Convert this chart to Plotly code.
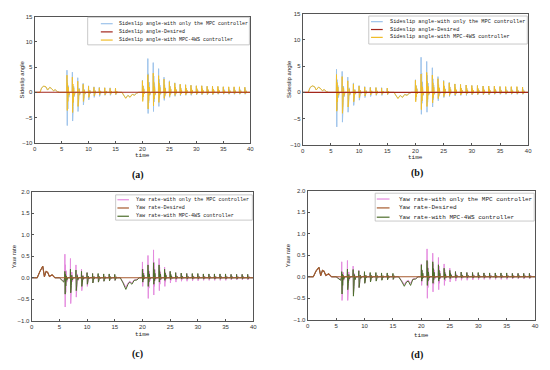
import plotly.graph_objects as go

# ---------------- data ----------------
t_events1 = [6.0, 7.0, 8.0, 9.0, 10.0, 11.0, 12.0, 13.0, 14.0, 15.0]
t_events2 = [20.0, 21.0, 22.0, 23.0, 24.0, 25.0, 26.0, 27.0, 28.0, 29.0,
             30.0, 31.0, 32.0, 33.0, 34.0, 35.0, 36.0, 37.0, 38.0, 39.0]

# sideslip angle (panels a, b)
ss_low_t = [0, 1.0, 1.3, 1.7, 2.1, 2.4, 2.8, 3.1, 3.5, 3.8, 4.2, 4.6,
            16.2, 16.6, 16.9, 17.3, 17.7, 18.1, 18.5, 18.9, 19.3, 40]
ss_low_4ws = [0, 0, 0.9, 1.25, 1.1, 0.45, 1.0, 0.8, 0.3, 0.55, 0.15, 0,
              0, -0.7, -1.2, -0.6, -1.0, -0.4, -0.6, -0.2, 0, 0]
ss_low_mpc = [0, 0, 0.9, 1.2, 1.05, 0.45, 0.95, 0.8, 0.3, 0.5, 0.15, 0,
              0, -0.7, -1.1, -0.6, -0.9, -0.4, -0.5, -0.2, 0, 0]
ss_mpc_up1 = [4.4, 4.0, 2.9, 1.8, 1.3, 1.1, 1.0, 0.9, 0.9, 0.8]
ss_mpc_dn1 = [-6.6, -5.7, -3.8, -2.5, -1.5, -1.0, -0.8, -0.6, -0.6, -0.5]
ss_4ws_up1 = [3.4, 3.0, 2.2, 1.6, 1.2, 1.0, 0.9, 0.9, 0.8, 0.8]
ss_4ws_dn1 = [-3.6, -4.0, -2.8, -1.8, -1.0, -0.7, -0.5, -0.5, -0.4, -0.4]
ss_mpc_up2 = [2.4, 6.7, 5.9, 4.7, 3.0, 2.3, 1.9, 1.6, 1.5, 1.4,
              1.3, 1.3, 1.2, 1.2, 1.1, 1.1, 1.0, 1.0, 1.0, 1.0]
ss_mpc_dn2 = [-1.5, -4.2, -3.8, -2.8, -1.6, -1.0, -0.8, -0.7, -0.6, -0.6,
              -0.5, -0.5, -0.5, -0.5, -0.4, -0.4, -0.4, -0.4, -0.4, -0.4]
ss_4ws_up2 = [2.3, 3.5, 3.8, 3.3, 2.6, 2.1, 1.8, 1.6, 1.5, 1.4,
              1.3, 1.3, 1.2, 1.2, 1.2, 1.1, 1.1, 1.1, 1.1, 1.0]
ss_4ws_dn2 = [-1.8, -3.3, -2.7, -2.0, -1.2, -0.8, -0.6, -0.5, -0.5, -0.4,
              -0.4, -0.4, -0.4, -0.4, -0.3, -0.3, -0.3, -0.3, -0.3, -0.3]
ss_des_t = [0, 40]
ss_des = [0, 0]

# yaw rate (panel c)
yr_low_t = [0, 1.0, 1.5, 2.0, 2.3, 2.6, 2.9, 3.2, 3.7, 4.2, 5.0, 5.5, 5.8,
            16.0, 16.5, 17.0, 17.4, 17.7, 18.1, 18.5, 19.0, 19.4, 40]
yr_des_c = [0, 0, 0.15, 0.27, 0.02, 0.15, 0.13, 0.03, 0.07, 0, 0, 0, 0,
            0, 0, 0, 0, 0, 0, 0, 0, 0, 0]
yr_4ws_low_c = [0, 0, 0.15, 0.27, 0.03, 0.15, 0.12, 0.03, 0.07, 0, 0, -0.05, -0.1,
                0, -0.12, -0.27, -0.15, -0.1, -0.15, -0.06, -0.05, 0, 0]
yr_mpc_low_c = [0, 0, 0.15, 0.26, 0.03, 0.14, 0.12, 0.03, 0.06, 0, 0, -0.04, -0.08,
                0, -0.1, -0.22, -0.12, -0.08, -0.12, -0.05, -0.04, 0, 0]
yr_mpc_up1_c = [0.55, 0.45, 0.3, 0.2, 0.12, 0.1, 0.08, 0.08, 0.07, 0.07]
yr_mpc_dn1_c = [-0.68, -0.6, -0.45, -0.3, -0.2, -0.12, -0.1, -0.08, -0.07, -0.06]
yr_4ws_up1_c = [0.15, 0.2, 0.18, 0.15, 0.12, 0.1, 0.1, 0.09, 0.09, 0.08]
yr_4ws_dn1_c = [-0.38, -0.35, -0.3, -0.2, -0.15, -0.12, -0.1, -0.08, -0.07, -0.06]
yr_mpc_up2_c = [0.37, 0.52, 0.65, 0.45, 0.25, 0.15, 0.12, 0.1, 0.1, 0.09,
                0.09, 0.08, 0.08, 0.08, 0.08, 0.08, 0.08, 0.08, 0.08, 0.08]
yr_mpc_dn2_c = [-0.2, -0.48, -0.4, -0.3, -0.2, -0.12, -0.1, -0.08, -0.08, -0.07,
                -0.07, -0.06, -0.06, -0.06, -0.06, -0.06, -0.05, -0.05, -0.05, -0.05]
yr_4ws_up2_c = [0.2, 0.3, 0.35, 0.3, 0.2, 0.15, 0.12, 0.11, 0.1, 0.1,
                0.1, 0.09, 0.09, 0.09, 0.09, 0.09, 0.08, 0.08, 0.08, 0.08]
yr_4ws_dn2_c = [-0.1, -0.2, -0.15, -0.1, -0.06, -0.04, -0.03, -0.03, -0.03, -0.03,
                -0.03, -0.03, -0.03, -0.03, -0.03, -0.03, -0.03, -0.03, -0.03, -0.03]

# yaw rate (panel d)
yr_des_d = [0, 0, 0.14, 0.22, 0.02, 0.15, 0.13, 0.03, 0.07, 0, 0, 0, 0,
            0, 0, 0, 0, 0, 0, 0, 0, 0, 0]
yr_4ws_low_d = [0, 0, 0.14, 0.22, 0.03, 0.15, 0.12, 0.03, 0.07, 0, 0, -0.04, -0.08,
                0, -0.1, -0.22, -0.12, -0.1, -0.2, -0.06, -0.05, 0, 0]
yr_mpc_low_d = [0, 0, 0.14, 0.21, 0.03, 0.14, 0.12, 0.03, 0.06, 0, 0, -0.03, -0.07,
                0, -0.08, -0.18, -0.1, -0.08, -0.15, -0.05, -0.04, 0, 0]
yr_mpc_up1_d = [0.35, 0.38, 0.25, 0.15, 0.1, 0.08, 0.08, 0.07, 0.07, 0.06]
yr_mpc_dn1_d = [-0.55, -0.55, -0.4, -0.25, -0.15, -0.1, -0.08, -0.07, -0.06, -0.06]
yr_4ws_up1_d = [0.12, 0.18, 0.17, 0.14, 0.12, 0.1, 0.1, 0.09, 0.09, 0.08]
yr_4ws_dn1_d = [-0.4, -0.3, -0.45, -0.25, -0.15, -0.12, -0.1, -0.08, -0.07, -0.06]
yr_mpc_up2_d = [0.3, 0.65, 0.55, 0.45, 0.3, 0.2, 0.13, 0.11, 0.1, 0.1,
                0.09, 0.09, 0.08, 0.08, 0.08, 0.08, 0.08, 0.08, 0.08, 0.08]
yr_mpc_dn2_d = [-0.2, -0.5, -0.35, -0.3, -0.2, -0.12, -0.1, -0.08, -0.08, -0.07,
                -0.07, -0.06, -0.06, -0.06, -0.06, -0.06, -0.05, -0.05, -0.05, -0.05]
yr_4ws_up2_d = [0.28, 0.38, 0.35, 0.28, 0.2, 0.15, 0.12, 0.11, 0.1, 0.1,
                0.1, 0.09, 0.09, 0.09, 0.09, 0.09, 0.08, 0.08, 0.08, 0.08]
yr_4ws_dn2_d = [-0.1, -0.2, -0.15, -0.1, -0.06, -0.04, -0.03, -0.03, -0.03, -0.03,
                -0.03, -0.03, -0.03, -0.03, -0.03, -0.03, -0.03, -0.03, -0.03, -0.03]

ss_names = ["Sideslip angle-with only the MPC controller",
            "Sideslip angle-Desired",
            "Sideslip angle-with MPC-4WS controller"]
yr_names = ["Yaw rate-with only the MPC controller",
            "Yaw rate-Desired",
            "Yaw rate-with MPC-4WS controller"]
x_ticks = [0, 5, 10, 15, 20, 25, 30, 35, 40]
ss_ticks = [-10, -5, 0, 5, 10, 15]
yr_ticks = [-1.0, -0.5, 0.0, 0.5, 1.0, 1.5, 2.0]
captions = ["(a)", "(b)", "(c)", "(d)"]


# ---------------- helpers ----------------
def build(low_t, low_v, ev1, up1, dn1, ev2, up2, dn2):
    pts = list(zip(low_t, low_v))
    for evs, ups, dns in ((ev1, up1, dn1), (ev2, up2, dn2)):
        for te, u, d in zip(evs, ups, dns):
            pts += [(te - 0.04, 0), (te, u), (te + 0.05, d),
                    (te + 0.1, u * 0.55), (te + 0.16, d * 0.5),
                    (te + 0.24, u * 0.3), (te + 0.34, d * 0.15),
                    (te + 0.5, 0)]
    pts.sort(key=lambda p: p[0])
    return [p[0] for p in pts], [p[1] for p in pts]


def dom(x0, x1, ytop, ybot):
    return [x0 / 550, x1 / 550], [1 - ybot / 370, 1 - ytop / 370]


W, H = 550, 370
panels = [
    dict(px=(33, 251, 14, 142), kind="ss", rng=[-10, 15], ticks=ss_ticks,
         leg=dict(box=(0.246, 0.996, 0.777, 0.996), line=(0.307, 0.362), tx=0.381,
                  rows=(0.945, 0.880, 0.815), fs=5.0),
         ytitle_x=20, time_y=155, cap=(137, 175)),
    dict(px=(304, 532, 11, 144), kind="ss", rng=[-10, 15], ticks=ss_ticks,
         leg=dict(box=(0.293, 0.996, 0.769, 0.983), line=(0.303, 0.355), tx=0.377,
                  rows=(0.94, 0.88, 0.82), fs=5.25),
         ytitle_x=290, time_y=157, cap=(420, 173)),
    dict(px=(30, 254, 192, 323), kind="c", rng=[-1, 2], ticks=yr_ticks,
         leg=dict(box=(0.379, 0.996, 0.781, 0.977), line=(0.387, 0.439), tx=0.461,
                  rows=(0.939, 0.875, 0.811), fs=5.1),
         ytitle_x=12, time_y=337, cap=(137, 357)),
    dict(px=(309, 539, 191, 322), kind="d", rng=[-1, 2], ticks=yr_ticks,
         leg=dict(box=(0.297, 0.996, 0.766, 0.982), line=(0.304, 0.36), tx=0.392,
                  rows=(0.937, 0.868, 0.796), fs=6.0),
         ytitle_x=290, time_y=338, cap=(420, 358)),
]

fig = go.Figure()
shapes, annos = [], []
mono = "Liberation Mono"

for i, p in enumerate(panels):
    k = "" if i == 0 else str(i + 1)
    xa, ya = "x" + k, "y" + k
    if p["kind"] == "ss":
        mx, my = build(ss_low_t, ss_low_mpc, t_events1, ss_mpc_up1, ss_mpc_dn1,
                       t_events2, ss_mpc_up2, ss_mpc_dn2)
        wx, wy = build(ss_low_t, ss_low_4ws, t_events1, ss_4ws_up1, ss_4ws_dn1,
                       t_events2, ss_4ws_up2, ss_4ws_dn2)
        dx, dy = ss_des_t, ss_des
        cols = ["#9cc2ea", "#a3261c", "#f0bd2a"]
        names = ss_names
        ytitle = "Sideslip angle"
    else:
        s = p["kind"]
        g = globals()
        mx, my = build(yr_low_t, g["yr_mpc_low_" + s], t_events1, g["yr_mpc_up1_" + s],
                       g["yr_mpc_dn1_" + s], t_events2, g["yr_mpc_up2_" + s], g["yr_mpc_dn2_" + s])
        wx, wy = build(yr_low_t, g["yr_4ws_low_" + s], t_events1, g["yr_4ws_up1_" + s],
                       g["yr_4ws_dn1_" + s], t_events2, g["yr_4ws_up2_" + s], g["yr_4ws_dn2_" + s])
        dx, dy = yr_low_t, g["yr_des_" + s]
        cols = ["#e48ade", "#a65a2e", "#4d6e2b"]
        names = yr_names
        ytitle = "Yaw rate"

    fig.add_trace(go.Scatter(x=mx, y=my, mode="lines", line=dict(color=cols[0], width=1),
                             xaxis=xa, yaxis=ya, showlegend=False, name=names[0]))
    fig.add_trace(go.Scatter(x=wx, y=wy, mode="lines", line=dict(color=cols[2], width=1),
                             xaxis=xa, yaxis=ya, showlegend=False, name=names[2]))
    fig.add_trace(go.Scatter(x=dx, y=dy, mode="lines", line=dict(color=cols[1], width=1.1),
                             xaxis=xa, yaxis=ya, showlegend=False, name=names[1]))

    xd, yd = dom(*p["px"])
    axis_common = dict(showline=True, linecolor="#555555", linewidth=1, mirror=True,
                       ticks="inside", ticklen=2, tickcolor="#555555", showgrid=False,
                       zeroline=False, tickfont=dict(family="Liberation Sans", size=6, color="#333333"))
    fig.update_layout(**{
        "xaxis" + k: dict(domain=xd, range=[0, 40], tickvals=x_ticks, anchor=ya, **axis_common),
        "yaxis" + k: dict(domain=yd, range=p["rng"], tickvals=p["ticks"], anchor=xa,
                          tickformat=".1f" if p["kind"] != "ss" else "d", **axis_common),
    })

    # manual legend
    L = p["leg"]
    xr, yr = xa + " domain", ya + " domain"
    shapes.append(dict(type="rect", xref=xr, yref=yr, x0=L["box"][0], x1=L["box"][1],
                       y0=L["box"][2], y1=L["box"][3], line=dict(color="#bbbbbb", width=0.8),
                       fillcolor="white", layer="above"))
    for r, (nm, c) in enumerate(zip(names, cols)):
        shapes.append(dict(type="line", xref=xr, yref=yr, x0=L["line"][0], x1=L["line"][1],
                           y0=L["rows"][r], y1=L["rows"][r], line=dict(color=c, width=1.2),
                           layer="above"))
        annos.append(dict(xref=xr, yref=yr, x=L["tx"], y=L["rows"][r], text=nm,
                          showarrow=False, xanchor="left", yanchor="middle",
                          font=dict(family=mono, size=L["fs"], color="#222222")))

    # axis titles and caption
    x0, x1, yt, yb = p["px"]
    annos.append(dict(xref="paper", yref="paper", x=p["ytitle_x"] / W, y=1 - (yt + yb) / 2 / H,
                      text=ytitle, textangle=-90, showarrow=False, xanchor="center", yanchor="middle",
                      font=dict(family="Liberation Sans", size=6, color="#222222")))
    annos.append(dict(xref="paper", yref="paper", x=(x0 + x1) / 2 / W, y=1 - p["time_y"] / H,
                      text="time", showarrow=False, xanchor="center", yanchor="middle",
                      font=dict(family=mono, size=6, color="#222222")))
    annos.append(dict(xref="paper", yref="paper", x=p["cap"][0] / W, y=1 - p["cap"][1] / H,
                      text="<b>" + captions[i] + "</b>", showarrow=False, xanchor="center",
                      yanchor="middle", font=dict(family="Liberation Serif", size=10, color="#111111")))

fig.update_layout(width=W, height=H, margin=dict(l=0, r=0, t=0, b=0),
                  paper_bgcolor="white", plot_bgcolor="white", showlegend=False,
                  shapes=shapes, annotations=annos)
fig.write_html("out.html", config={"displayModeBar": False},
               post_script="document.body.style.margin='0';document.body.style.overflow='hidden';")
